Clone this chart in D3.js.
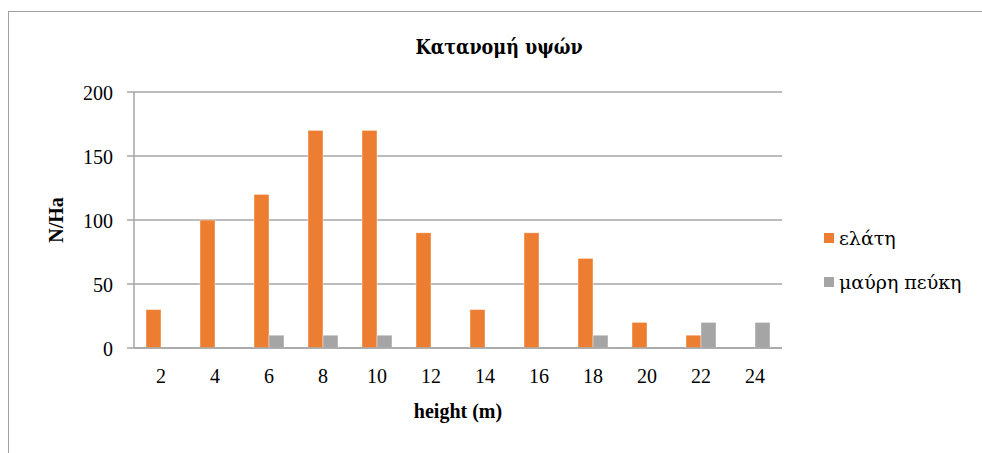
<!DOCTYPE html>
<html>
<head>
<meta charset="utf-8">
<script src="https://cdn.jsdelivr.net/npm/d3@7"></script>
<style>
  html, body { margin: 0; padding: 0; background: #fff; }
  svg { display: block; }
  text { font-family: "Liberation Serif", serif; fill: #000; }
</style>
</head>
<body>
<svg id="chart" width="982" height="453"></svg>
<script>
const categories = ["2","4","6","8","10","12","14","16","18","20","22","24"];
const seriesNames = ["ελάτη", "μαύρη πεύκη"];
const elati = [30,100,120,170,170,90,30,90,70,20,10,0];
const mavriPefki = [0,0,10,10,10,0,0,0,10,0,20,20];
const yTicks = [0,50,100,150,200];
const colors = ["#ED7D31", "#A5A5A5"];
const title = "Κατανομή υψών";
const xTitle = "height (m)";
const yTitle = "N/Ha";

const FONT = '"Liberation Serif", serif';
const GREEK_T = '"DejaVu Serif Condensed", "DejaVu Serif", serif';
const GREEK_L = '"DejaVu Serif", serif';
const svg = d3.select("#chart");

// chart border
svg.append("rect").attr("x", 8.5).attr("y", 11.5).attr("width", 1000).attr("height", 1000)
  .attr("fill", "none").attr("stroke", "#A0A0A0").attr("stroke-width", 1);

const x = d3.scaleBand().domain(categories).range([134, 782]).paddingInner(0).paddingOuter(0);
const y = d3.scaleLinear().domain([0, 200]).range([348, 92]);

const sub = d3.scaleBand().domain(seriesNames).range([0, 30]);
const groupOffset = (x.bandwidth() - 30) / 2;

// gridlines
svg.append("g").selectAll("line").data(yTicks).join("line")
  .attr("x1", 127).attr("x2", 782)
  .attr("y1", d => y(d)).attr("y2", d => y(d))
  .attr("stroke", "#A6A6A6").attr("stroke-width", 1.5);

// y axis line
svg.append("line").attr("x1", 134).attr("x2", 134).attr("y1", y(200)).attr("y2", y(0))
  .attr("stroke", "#A6A6A6").attr("stroke-width", 1.5);

// y tick labels
const yAxis = d3.axisLeft(y).tickValues(yTicks).tickSize(0).tickPadding(0);
const yg = svg.append("g").attr("transform", "translate(113,0)").call(yAxis);
yg.attr("font-family", null);
yg.select(".domain").remove();
yg.selectAll("text").attr("font-size", 20).style("font-family", FONT).attr("dy", "0.35em").attr("fill", "#000");

// bars
const data = [elati, mavriPefki];
data.forEach((vals, si) => {
  svg.append("g").selectAll("rect").data(vals).join("rect")
    .attr("x", (d, i) => x(categories[i]) + groupOffset + sub(seriesNames[si]))
    .attr("y", d => y(d))
    .attr("width", sub.bandwidth())
    .attr("height", d => y(0) - y(d))
    .attr("fill", colors[si])
    .attr("stroke", d => d > 0 ? "#fff" : "none")
    .attr("stroke-opacity", 0.5)
    .attr("stroke-width", 0.8);
});

// baseline over bars
svg.append("line").attr("x1", 134).attr("x2", 782).attr("y1", y(0)).attr("y2", y(0))
  .attr("stroke", "#A6A6A6").attr("stroke-width", 1.5);

// x tick labels
const xAxis = d3.axisBottom(x).tickSize(0).tickPadding(0);
const xg = svg.append("g").attr("transform", "translate(0,369)").call(xAxis);
xg.attr("font-family", null);
xg.select(".domain").remove();
xg.selectAll("text").attr("font-size", 20).style("font-family", FONT).attr("dy", "0.71em").attr("fill", "#000");

// titles
svg.append("text").attr("x", 499).attr("y", 54).attr("text-anchor", "middle")
  .style("font-family", GREEK_T).attr("font-size", 19.5).attr("font-weight", "bold").text(title);
svg.append("text").attr("x", 458).attr("y", 418).attr("text-anchor", "middle")
  .style("font-family", FONT).attr("font-size", 20).attr("font-weight", "bold").text(xTitle);
svg.append("text").attr("transform", "translate(63,220) rotate(-90)").attr("text-anchor", "middle")
  .style("font-family", FONT).attr("font-size", 20).attr("font-weight", "bold").text(yTitle);

// legend
const leg = svg.append("g");
seriesNames.forEach((n, i) => {
  const yy = 238 + i * 44;
  leg.append("rect").attr("x", 824).attr("y", yy - 5).attr("width", 10).attr("height", 10).attr("fill", colors[i]);
  leg.append("text").attr("x", 839).attr("y", yy).attr("dy", "0.35em")
    .style("font-family", GREEK_L).attr("font-size", 19).text(n);
});
</script>
</body>
</html>
